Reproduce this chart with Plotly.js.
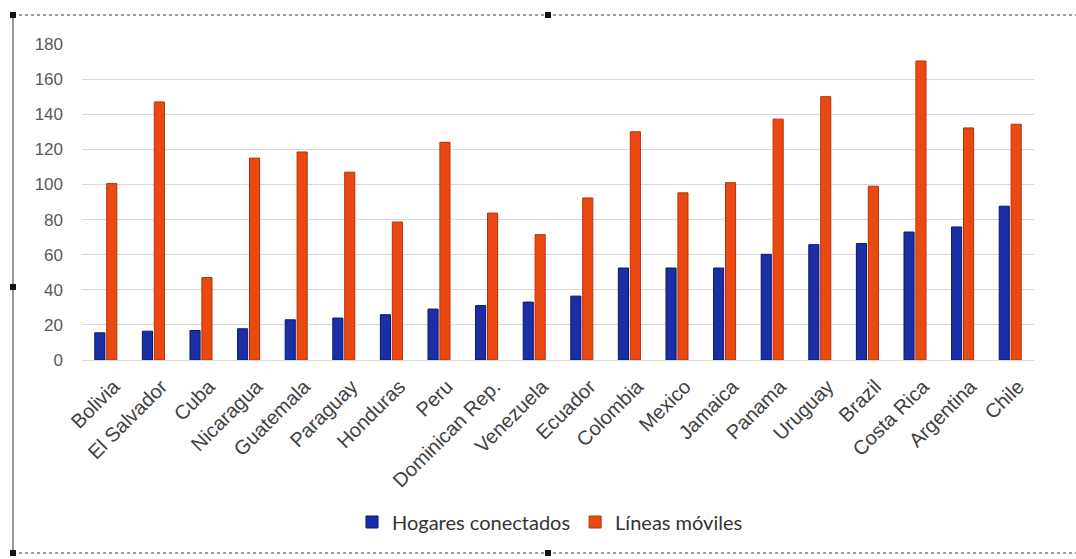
<!DOCTYPE html>
<html><head><meta charset="utf-8">
<script src="https://cdn.plot.ly/plotly-3.0.1.min.js"></script>
<style>html,body{margin:0;padding:0;background:#fff}#chart{width:1076px;height:559px}</style>
</head><body><div id="chart"></div>
<script>
const countries = ["Bolivia","El Salvador","Cuba","Nicaragua","Guatemala","Paraguay","Honduras","Peru","Dominican Rep.","Venezuela","Ecuador","Colombia","Mexico","Jamaica","Panama","Uruguay","Brazil","Costa Rica","Argentina","Chile"];
const hogares = [15.5,16.4,16.8,17.8,22.9,23.9,25.8,29,31,33,36.4,52.4,52.4,52.4,60.2,65.7,66.3,72.9,75.8,87.6];
const lineas = [100.5,147,47,115,118.5,107,78.6,124,83.7,71.4,92.3,130,95.2,101,137.2,150,99,170.3,132.2,134.3];
const yTicks = [0,20,40,60,80,100,120,140,160,180];

const L=82,R=1034,T=44,B=360;
const px=x=>(x-L)/(R-L), py=y=>(B-y)/(B-T);
const frame='#9a9a9a';
const shapes=[
 {type:'line',xref:'paper',yref:'paper',x0:px(13),x1:px(1076),y0:py(15),y1:py(15),line:{color:frame,width:2,dash:'dot'}},
 {type:'line',xref:'paper',yref:'paper',x0:px(13),x1:px(13),y0:py(15),y1:py(553),line:{color:frame,width:2}},
 {type:'line',xref:'paper',yref:'paper',x0:px(13),x1:px(1076),y0:py(553),y1:py(553),line:{color:frame,width:2,dash:'dot'}}
];
[[13,15],[548,15],[13,287],[13,553],[548,553]].forEach(([x,y])=>{
 shapes.push({type:'rect',xref:'paper',yref:'paper',x0:px(x-3),x1:px(x+3),y0:py(y+3),y1:py(y-3),fillcolor:'#111',line:{width:0}});
});

Plotly.newPlot('chart',[
 {type:'bar',name:'Hogares conectados',x:countries,y:hogares,marker:{color:'#1a2ea6',line:{color:'#0c1670',width:1}}},
 {type:'bar',name:'Líneas móviles',x:countries,y:lineas,marker:{color:'#ea4a12',line:{color:'#b8300a',width:1}}}
],{
 width:1076,height:559,
 margin:{l:L,r:1076-R,t:T,b:559-B},
 paper_bgcolor:'#fff',plot_bgcolor:'#fff',
 barmode:'group',bargap:0.5,bargroupgap:0.15,
 font:{family:'Liberation Sans, Arial, sans-serif',color:'#333'},
 xaxis:{tickangle:-45,tickfont:{size:20,color:'#404040'},showgrid:false,showline:true,linecolor:'#d9d9d9',ticks:'',ticklabelstandoff:6,ticklabelshift:8},
 yaxis:{range:[0,180],tickvals:yTicks,tickfont:{size:17,color:'#595959'},gridcolor:'#d9d9d9',zeroline:false,ticks:'',ticklabelstandoff:18},
 showlegend:true,
 legend:{orientation:'h',x:px(550),xanchor:'center',y:py(522),yanchor:'middle',font:{size:20,color:'#333',family:'Lato, sans-serif'},itemwidth:30},
 shapes:shapes
},{displayModeBar:false,staticPlot:true});
</script></body></html>
